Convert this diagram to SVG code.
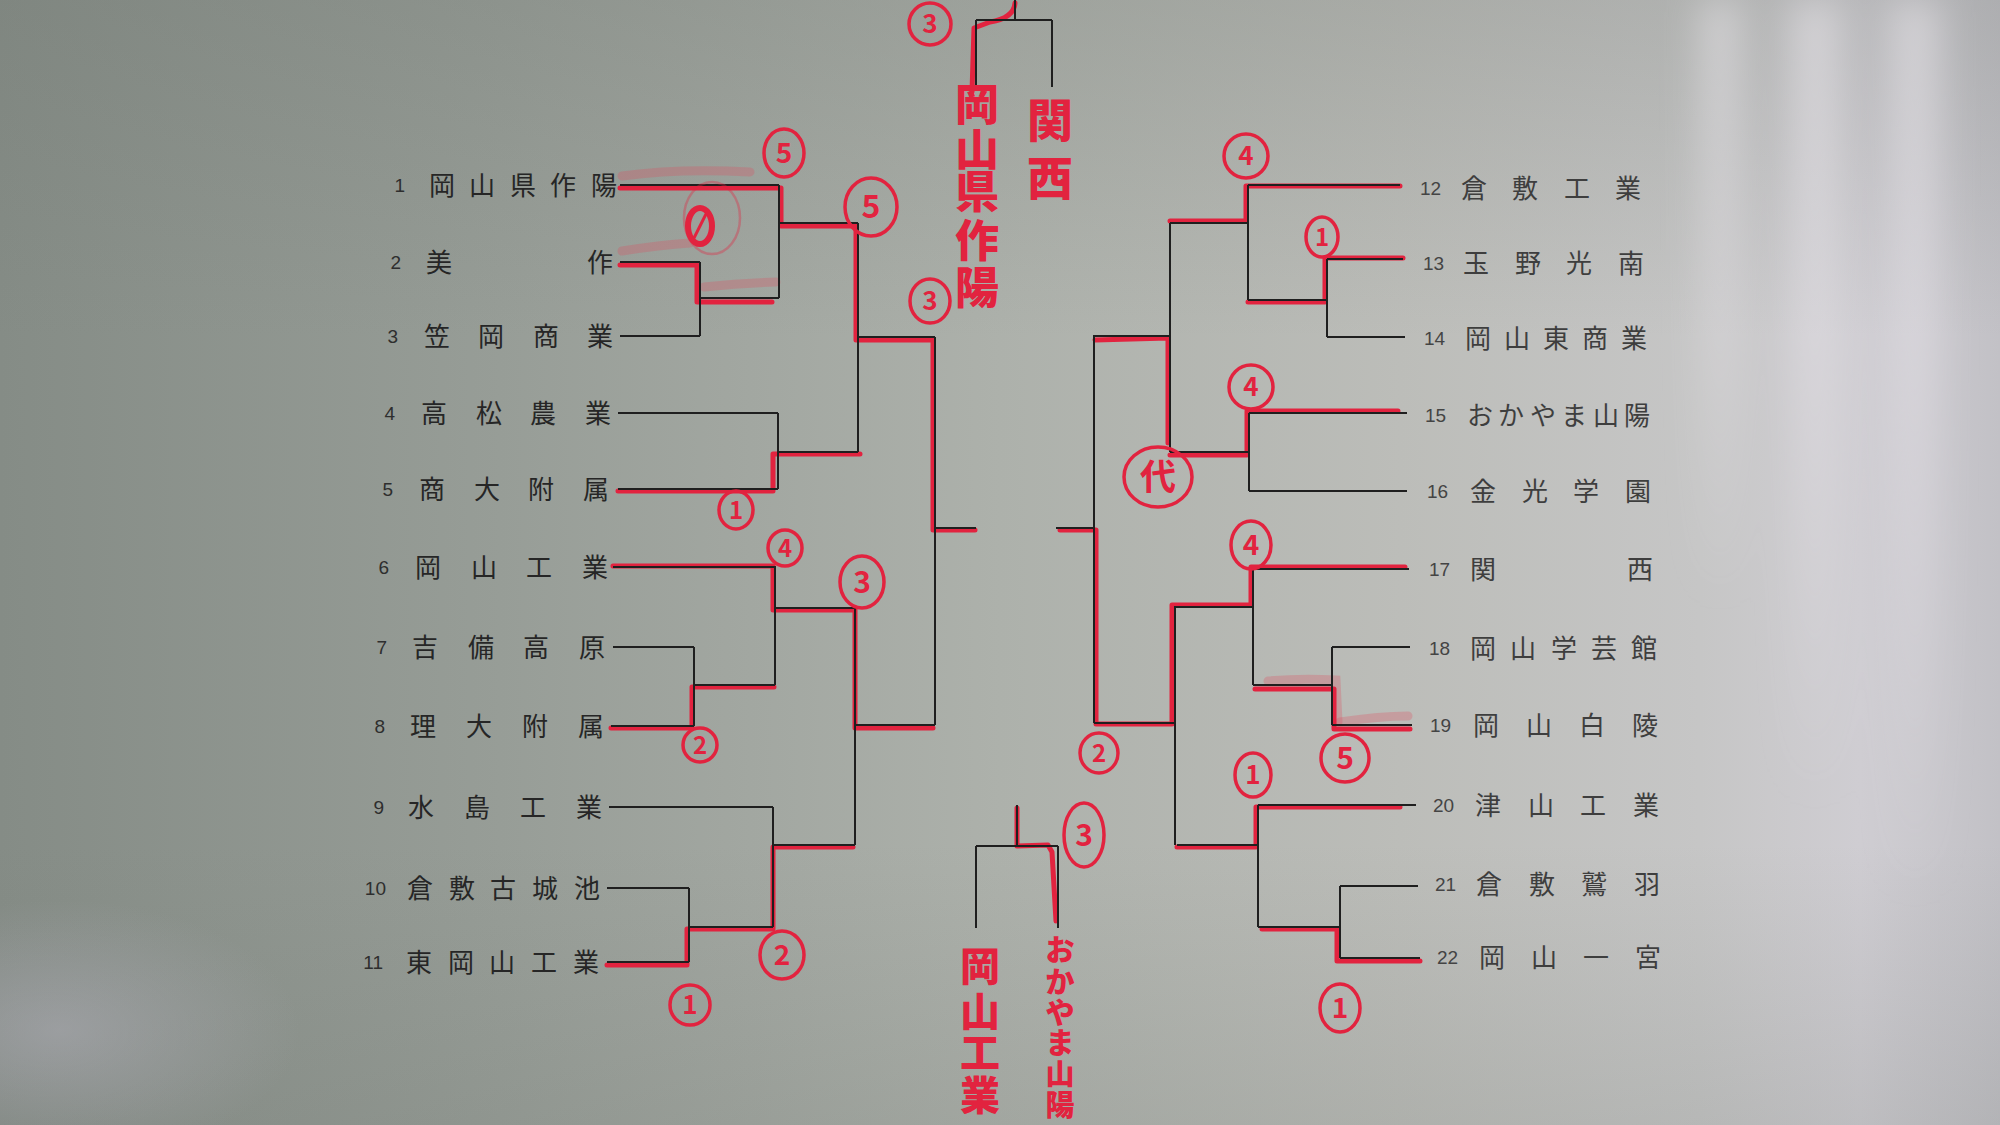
<svg xmlns="http://www.w3.org/2000/svg" width="2000" height="1125" viewBox="0 0 2000 1125">
<defs>
<linearGradient id="bgH" x1="0" y1="0" x2="1" y2="0">
<stop offset="0" stop-color="#858c86"/>
<stop offset="0.25" stop-color="#979d97"/>
<stop offset="0.5" stop-color="#adb1ab"/>
<stop offset="0.7" stop-color="#bcbdb9"/>
<stop offset="0.85" stop-color="#c6c6c6"/>
<stop offset="0.93" stop-color="#cfcdd2"/>
<stop offset="1" stop-color="#c2c1c6"/>
</linearGradient>
<linearGradient id="bgV" x1="0" y1="0" x2="0" y2="1">
<stop offset="0" stop-color="#6f756f" stop-opacity="0.25"/>
<stop offset="0.3" stop-color="#6f756f" stop-opacity="0"/>
<stop offset="0.75" stop-color="#6f756f" stop-opacity="0"/>
<stop offset="1" stop-color="#6f756f" stop-opacity="0.18"/>
</linearGradient>
<radialGradient id="glare" cx="0.5" cy="0.5" r="0.5">
<stop offset="0" stop-color="#aeadb6" stop-opacity="0.55"/>
<stop offset="1" stop-color="#aeadb6" stop-opacity="0"/>
</radialGradient>
<linearGradient id="streakV" x1="0" y1="0" x2="0" y2="1">
<stop offset="0" stop-color="#f6f2f8" stop-opacity="0.45"/>
<stop offset="0.6" stop-color="#f6f2f8" stop-opacity="0.2"/>
<stop offset="1" stop-color="#f6f2f8" stop-opacity="0"/>
</linearGradient>
<filter id="blur" x="-50%" y="-10%" width="200%" height="120%">
<feGaussianBlur stdDeviation="18"/>
</filter>
<style>
.bk{stroke:#1f1f1f;stroke-width:2;fill:none}
.rd{stroke:#e2233f;stroke-width:5;fill:none;stroke-linecap:round;stroke-linejoin:round}
.sm{stroke:#e04a5e;stroke-opacity:0.28;stroke-width:9;fill:none;stroke-linecap:round}
.lbl{font-family:"Noto Sans CJK JP","Noto Sans CJK SC",sans-serif;font-size:26px;fill:#262626}
.lblr{font-family:"Noto Sans CJK JP","Noto Sans CJK SC",sans-serif;font-size:26px;fill:#3e3e3e}
.num{font-family:"Liberation Sans Narrow","Liberation Sans",sans-serif;font-size:19px;fill:#2e2e2e}
.numr{font-family:"Liberation Sans Narrow","Liberation Sans",sans-serif;font-size:19px;fill:#444}
.cn{fill:none;stroke:#e2233f;stroke-width:3.5}
.ct{font-family:"Noto Sans CJK JP","Liberation Sans",sans-serif;font-weight:700;fill:#e2233f;text-anchor:middle}
.rt{font-family:"Noto Sans CJK JP","Noto Sans CJK SC",sans-serif;font-weight:900;fill:#e2233f;text-anchor:middle}
</style>
</defs>

<!-- background -->
<rect x="0" y="0" width="2000" height="1125" fill="url(#bgH)"/>
<rect x="0" y="0" width="2000" height="1125" fill="url(#bgV)"/>
<ellipse cx="60" cy="1030" rx="240" ry="130" fill="url(#glare)"/>
<g filter="url(#blur)">
<rect x="1700" y="0" width="40" height="600" fill="url(#streakV)"/>
<rect x="1790" y="0" width="50" height="800" fill="url(#streakV)"/>
<rect x="1890" y="0" width="50" height="900" fill="url(#streakV)"/>
</g>

<!-- connectors -->
<g id="connectors">
<g id="red-highlights">
<path class="sm" d="M622,176 Q680,168 750,172"/>
<path class="sm" d="M622,251 Q660,245 690,243"/>
<path class="sm" d="M704,287 Q740,283 776,282"/>
<path class="sm" d="M1268,681 Q1300,678 1336,680 L1338,722"/>
<path class="sm" d="M1340,722 Q1380,716 1408,716"/>
<path class="rd" d="M620,188 L781,188 L781,226 L856,226 L856,340 L933,340 L933,530 L975,530"/>
<path class="rd" d="M620,265 L697,265 L697,302 L772,302"/>
<path class="rd" d="M618,491 L773,491 L773,454 L860,454"/>
<path class="rd" d="M613,566 L773,566 L773,610 L855,610 L855,728 L933,728"/>
<path class="rd" d="M611,728 L692,728 L692,687 L774,687"/>
<path class="rd" d="M607,965 L687,965 L687,929 L773,929 L773,847 L853,847"/>
<path class="rd" d="M1400,186 L1246,186 L1246,221 L1170,221"/>
<path class="rd" d="M1403,258 L1325,258 L1325,302 L1248,302"/>
<path class="rd" d="M1398,411 L1247,411 L1247,455 L1170,455"/>
<path class="rd" d="M1168,443 L1168,338 L1095,340"/>
<path class="rd" d="M1405,567 L1251,567 L1251,605 L1172,605 L1172,724 L1096,724 L1096,530 L1060,530"/>
<path class="rd" d="M1410,729 L1334,729 L1334,689 L1255,689"/>
<path class="rd" d="M1400,807 L1256,807 L1256,847 L1177,847"/>
<path class="rd" d="M1420,961 L1337,961 L1337,929 L1262,929"/>
<path class="rd" d="M1015,3 Q1014,18 990,22 L974,28 L972,92"/>
<path class="rd" d="M1017,808 L1017,846 L1048,845 L1052,852 L1056,921"/>
</g>
<g id="black-lines">
<path class="bk" d="M620,185 H779 M620,262 H700 M620,336 H700 M700,262 V336 M700,298 H779 M779,185 V298 M779,223 H858"/>
<path class="bk" d="M618,413 H778 M618,489 H778 M778,413 V489 M778,452 H858 M858,223 V452 M858,337 H935"/>
<path class="bk" d="M613,567 H776 M613,647 H694 M611,726 H694 M694,647 V726 M694,685 H775 M775,567 V685 M775,608 H855"/>
<path class="bk" d="M609,807 H773 M607,888 H689 M607,962 H689 M689,888 V962 M689,927 H773 M773,807 V927 M773,845 H855 M855,608 V845 M855,725 H935 M935,337 V725 M935,528 H976"/>
<path class="bk" d="M1248,185 H1400 M1327,259 H1403 M1327,337 H1405 M1327,259 V337 M1248,300 H1327 M1248,185 V300 M1170,223 H1248"/>
<path class="bk" d="M1249,413 H1407 M1249,491 H1407 M1249,413 V491 M1170,452 H1249 M1170,223 V452 M1093,336 H1170"/>
<path class="bk" d="M1253,569 H1409 M1332,647 H1410 M1332,725 H1412 M1332,647 V725 M1253,685 H1332 M1253,569 V685 M1174,607 H1253"/>
<path class="bk" d="M1258,805 H1416 M1340,886 H1418 M1340,958 H1420 M1340,886 V958 M1258,927 H1340 M1258,805 V927 M1177,845 H1258 M1175,607 V845 M1094,723 H1175 M1094,336 V723 M1056,528 H1094"/>
<path class="bk" d="M1015,0 V20 M976,20 H1052 M976,20 V85 M1052,20 V87"/>
<path class="bk" d="M1017,805 V846 M976,846 H1058 M976,846 V928 M1058,846 V928"/>
</g>
</g>

<!-- left teams -->
<g id="team1"><text class="num" x="405" y="192" text-anchor="end">1</text><text class="lbl" x="429 469 510 550 591" y="195">岡山県作陽</text></g>
<g id="team2"><text class="num" x="401" y="269" text-anchor="end">2</text><text class="lbl" x="426 587" y="272">美作</text></g>
<g id="team3"><text class="num" x="398" y="343" text-anchor="end">3</text><text class="lbl" x="424 478 533 587" y="346">笠岡商業</text></g>
<g id="team4"><text class="num" x="395" y="420" text-anchor="end">4</text><text class="lbl" x="421 476 530 585" y="423">高松農業</text></g>
<g id="team5"><text class="num" x="393" y="496" text-anchor="end">5</text><text class="lbl" x="419 474 528 583" y="499">商大附属</text></g>
<g id="team6"><text class="num" x="389" y="574" text-anchor="end">6</text><text class="lbl" x="415 471 526 582" y="577">岡山工業</text></g>
<g id="team7"><text class="num" x="387" y="654" text-anchor="end">7</text><text class="lbl" x="412 468 523 579" y="657">吉備高原</text></g>
<g id="team8"><text class="num" x="385" y="733" text-anchor="end">8</text><text class="lbl" x="410 466 522 578" y="736">理大附属</text></g>
<g id="team9"><text class="num" x="384" y="814" text-anchor="end">9</text><text class="lbl" x="408 464 520 576" y="817">水島工業</text></g>
<g id="team10"><text class="num" x="386" y="895" text-anchor="end">10</text><text class="lbl" x="407 449 490 532 574" y="898">倉敷古城池</text></g>
<g id="team11"><text class="num" x="383" y="969" text-anchor="end">11</text><text class="lbl" x="406 448 489 531 573" y="972">東岡山工業</text></g>

<!-- right teams -->
<g id="team12"><text class="numr" x="1420" y="195">12</text><text class="lblr" x="1461 1512 1564 1615" y="198">倉敷工業</text></g>
<g id="team13"><text class="numr" x="1423" y="270">13</text><text class="lblr" x="1463 1515 1566 1618" y="273">玉野光南</text></g>
<g id="team14"><text class="numr" x="1424" y="345">14</text><text class="lblr" x="1465 1504 1543 1582 1621" y="348">岡山東商業</text></g>
<g id="team15"><text class="numr" x="1425" y="422">15</text><text class="lblr" x="1467 1498 1530 1561 1593 1624" y="425">おかやま山陽</text></g>
<g id="team16"><text class="numr" x="1427" y="498">16</text><text class="lblr" x="1470 1522 1573 1625" y="501">金光学園</text></g>
<g id="team17"><text class="numr" x="1429" y="576">17</text><text class="lblr" x="1470 1627" y="579">関西</text></g>
<g id="team18"><text class="numr" x="1429" y="655">18</text><text class="lblr" x="1470 1510 1551 1591 1631" y="658">岡山学芸館</text></g>
<g id="team19"><text class="numr" x="1430" y="732">19</text><text class="lblr" x="1473 1526 1579 1632" y="735">岡山白陵</text></g>
<g id="team20"><text class="numr" x="1433" y="812">20</text><text class="lblr" x="1475 1528 1580 1633" y="815">津山工業</text></g>
<g id="team21"><text class="numr" x="1435" y="891">21</text><text class="lblr" x="1476 1529 1581 1634" y="894">倉敷鷲羽</text></g>
<g id="team22"><text class="numr" x="1437" y="964">22</text><text class="lblr" x="1479 1531 1583 1635" y="967">岡山一宮</text></g>

<!-- handwritten finalists -->
<g id="final-top-left"><text class="rt" font-size="44" x="977 977 977 977 977" y="121 166 208 257 304">岡山県作陽</text></g>
<g id="final-top-right"><text class="rt" font-size="46" x="1050 1050" y="137 195">関西</text></g>
<g id="final-bottom-left"><text class="rt" font-size="40" x="980 980 980 980" y="981 1026 1067 1110">岡山工業</text></g>
<g id="final-bottom-right"><text class="rt" font-size="29" x="1060 1060 1060 1060 1060 1060" y="961 993 1024 1054 1085 1116">おかやま山陽</text></g>

<!-- circled scores -->
<g id="scores">
<g><ellipse class="cn" cx="930" cy="24" rx="21" ry="21"/><text class="ct" font-size="26" x="930" y="33">3</text></g>
<g><ellipse class="cn" cx="784" cy="153" rx="20" ry="24"/><text class="ct" font-size="28" x="784" y="163">5</text></g>
<g><ellipse class="cn" cx="871" cy="207" rx="26" ry="29"/><text class="ct" font-size="32" x="871" y="218">5</text></g>
<g><ellipse fill="none" stroke="#e2233f" stroke-opacity="0.35" stroke-width="2.5" cx="712" cy="218" rx="28" ry="36"/><ellipse fill="none" stroke="#e2233f" stroke-width="6" cx="700" cy="226" rx="12" ry="18"/><path d="M694,238 L706,214" stroke="#e2233f" stroke-width="3" fill="none"/></g>
<g><ellipse class="cn" cx="930" cy="301" rx="20" ry="22"/><text class="ct" font-size="26" x="930" y="310">3</text></g>
<g><ellipse class="cn" cx="736" cy="510" rx="17" ry="19"/><text class="ct" font-size="24" x="736" y="519">1</text></g>
<g><ellipse class="cn" cx="785" cy="548" rx="17" ry="18"/><text class="ct" font-size="24" x="785" y="557">4</text></g>
<g><ellipse class="cn" cx="862" cy="582" rx="22" ry="26"/><text class="ct" font-size="30" x="862" y="593">3</text></g>
<g><ellipse class="cn" cx="700" cy="745" rx="17" ry="17"/><text class="ct" font-size="24" x="700" y="754">2</text></g>
<g><ellipse class="cn" cx="782" cy="955" rx="22" ry="24"/><text class="ct" font-size="28" x="782" y="965">2</text></g>
<g><ellipse class="cn" cx="690" cy="1005" rx="20" ry="20"/><text class="ct" font-size="26" x="690" y="1014">1</text></g>
<g><ellipse class="cn" cx="1246" cy="156" rx="22" ry="22"/><text class="ct" font-size="26" x="1246" y="165">4</text></g>
<g><ellipse class="cn" cx="1322" cy="237" rx="16" ry="20"/><text class="ct" font-size="24" x="1322" y="246">1</text></g>
<g><ellipse class="cn" cx="1251" cy="387" rx="22" ry="22"/><text class="ct" font-size="26" x="1251" y="396">4</text></g>
<g><ellipse class="cn" cx="1158" cy="477" rx="34" ry="30"/><text class="ct" font-size="36" x="1158" y="490">代</text></g>
<g><ellipse class="cn" cx="1251" cy="545" rx="20" ry="24"/><text class="ct" font-size="28" x="1251" y="555">4</text></g>
<g><ellipse class="cn" cx="1345" cy="758" rx="24" ry="24"/><text class="ct" font-size="30" x="1345" y="769">5</text></g>
<g><ellipse class="cn" cx="1253" cy="775" rx="18" ry="22"/><text class="ct" font-size="26" x="1253" y="784">1</text></g>
<g><ellipse class="cn" cx="1099" cy="753" rx="19" ry="20"/><text class="ct" font-size="24" x="1099" y="762">2</text></g>
<g><ellipse class="cn" cx="1340" cy="1008" rx="20" ry="24"/><text class="ct" font-size="28" x="1340" y="1018">1</text></g>
<g><ellipse class="cn" cx="1084" cy="835" rx="20" ry="32"/><text class="ct" font-size="30" x="1084" y="846">3</text></g>
</g>
</svg>
